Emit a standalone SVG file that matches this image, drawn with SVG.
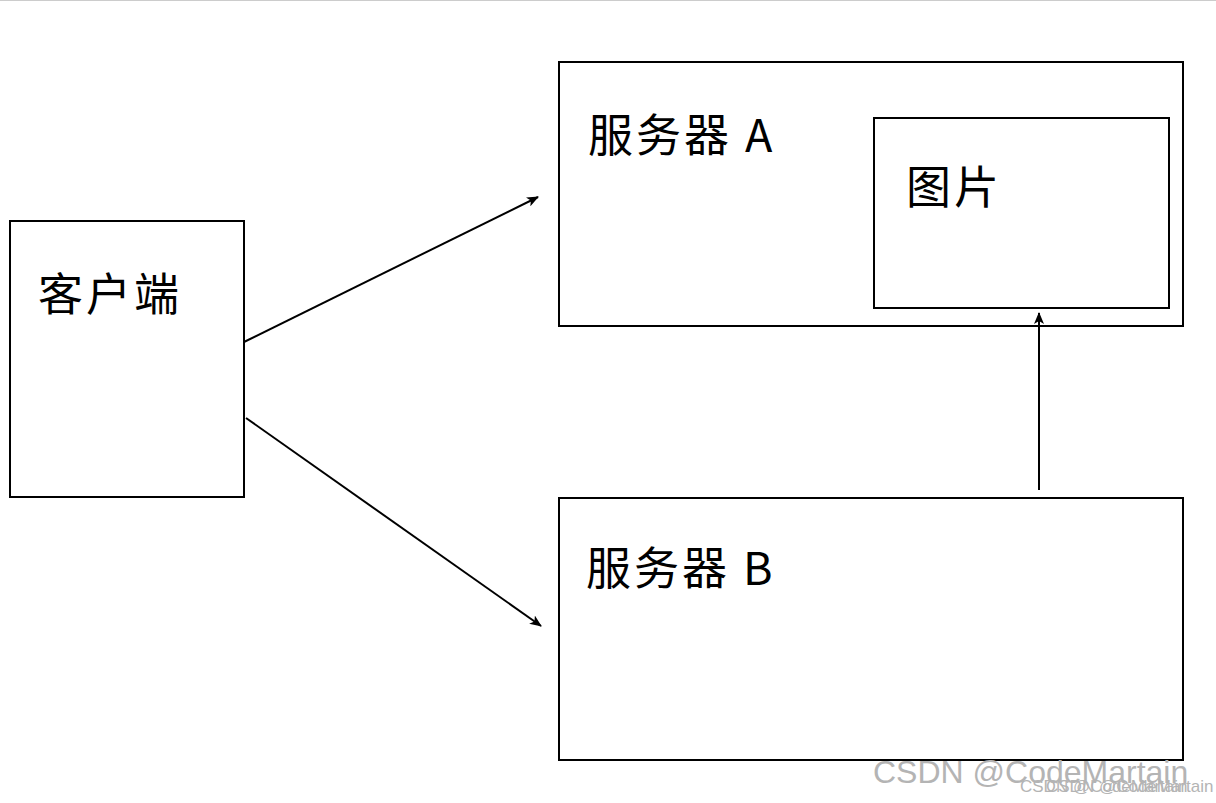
<svg xmlns="http://www.w3.org/2000/svg" width="1216" height="803" viewBox="0 0 1216 803">
<style>
.box{fill:#fff;stroke:#000;stroke-width:2}
.lbl{font-family:"Noto Sans CJK SC","Liberation Sans",sans-serif;font-size:45px;letter-spacing:3px;fill:#000}
.cn{stroke:#000;stroke-width:2;fill:none;marker-end:url(#ah)}
.wm{font-family:"Liberation Sans",sans-serif;fill:#b4b4b4}
</style>
<defs><marker id="ah" markerWidth="12" markerHeight="10" refX="11" refY="5" orient="auto" markerUnits="userSpaceOnUse"><path d="M0,0 L12,5 L0,10 L3,5 Z" fill="#000"/></marker></defs>
<rect width="1216" height="803" fill="#fff"/>
<line x1="0" y1="0.5" x2="1216" y2="0.5" stroke="#ccc"/>
<g id="client"><rect class="box" x="10" y="221" width="234" height="276"/><text class="lbl" x="38" y="311">客户端</text></g>
<g id="serverA"><rect class="box" x="559" y="62" width="624" height="264"/><text class="lbl" x="588" y="152">服务器 A</text></g>
<g id="image"><rect class="box" x="874" y="118" width="295" height="190"/><text class="lbl" x="906" y="204">图片</text></g>
<g id="serverB"><rect class="box" x="559" y="498" width="624" height="262"/><text class="lbl" x="586" y="585">服务器 B</text></g>
<g id="connectors">
<line class="cn" x1="244" y1="342" x2="538" y2="197"/>
<line class="cn" x1="246" y1="418" x2="541" y2="626"/>
<line class="cn" x1="1039" y1="490" x2="1039" y2="313"/>
</g>
<text class="wm" x="873" y="783" font-size="32">CSDN @CodeMartain</text>
<text class="wm" x="1020" y="792" font-size="17" fill="#999">CSDN @CodeMartain</text>
<text class="wm" x="1046" y="792" font-size="17" fill="#999">CSDN @CodeMartain</text>
</svg>
